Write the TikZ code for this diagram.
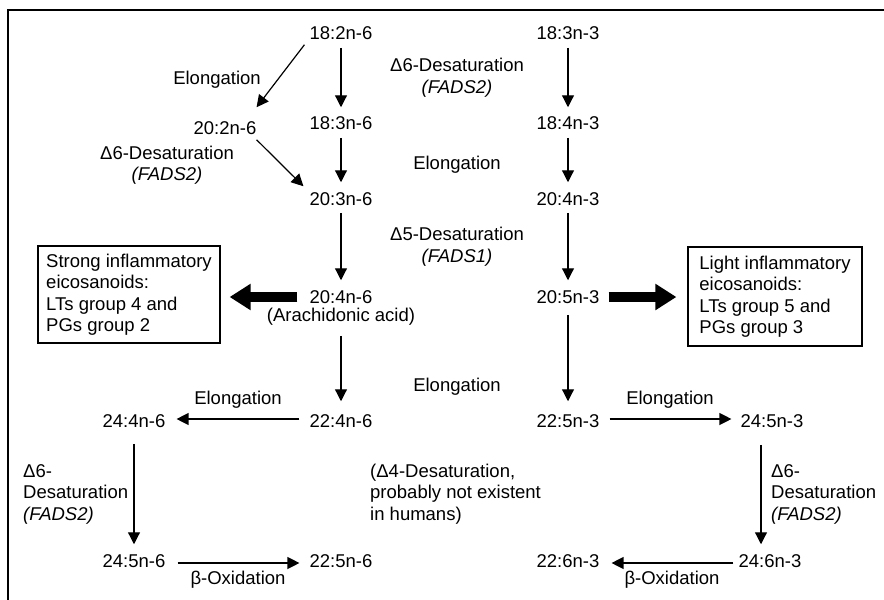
\documentclass[tikz,border=0pt]{standalone}
\usepackage{fontspec}
\setmainfont{Liberation Sans}
\usetikzlibrary{arrows.meta}
\begin{document}
\begin{tikzpicture}[x=1pt,y=-1pt,
  lbl/.style={inner sep=0pt, font=\fontsize{18.5}{21.5}\selectfont},
  ml/.style={lbl, align=left},
  arr/.style={line width=1.2pt, -{Triangle[width=12pt,length=12pt]}},
  big/.style={line width=10pt, -{Triangle[width=25pt,length=21pt]}},
  infobox/.style={draw, line width=1.2pt, ml}]
\clip (0,0) rectangle (884,600);
\draw[line width=1.6pt] (8,10) rectangle (900,620);

% n-6 column
\node[lbl] (a1) at (341,33) {18:2n-6};
\node[lbl] (a2) at (341,123) {18:3n-6};
\node[lbl] (l2) at (225,128) {20:2n-6};
\node[lbl] (a3) at (341,199) {20:3n-6};
\node[lbl] (a4) at (341,297) {20:4n-6};
\node[lbl] (aa) at (341,317) {(Arachidonic acid)};
\node[lbl] (a5) at (341,421) {22:4n-6};
\node[lbl] (l5) at (134,421) {24:4n-6};
\node[lbl] (l6) at (134,561) {24:5n-6};
\node[lbl] (a6) at (341,561) {22:5n-6};
% n-3 column
\node[lbl] (b1) at (568,33) {18:3n-3};
\node[lbl] (b2) at (568,123) {18:4n-3};
\node[lbl] (b3) at (568,199) {20:4n-3};
\node[lbl] (b4) at (568,297) {20:5n-3};
\node[lbl] (b5) at (568,421) {22:5n-3};
\node[lbl] (r5) at (772,421) {24:5n-3};
\node[lbl] (r6) at (770,561) {24:6n-3};
\node[lbl] (b6) at (568,561) {22:6n-3};

% boxes
\node[infobox, minimum width=182pt, minimum height=97pt] (sbox) at (129,294.5)
  {Strong inflammatory\\eicosanoids:\\LTs group 4 and\\PGs group 2};
\node[infobox, minimum width=174pt, minimum height=99pt] (lbox) at (775,296.5)
  {Light inflammatory\\eicosanoids:\\LTs group 5 and\\PGs group 3};

% labels
\node[lbl] (e1) at (217,80) {Elongation};
\node[lbl, align=center] (d1) at (167,165) {Δ6-Desaturation\\\textit{(FADS2)}};
\node[lbl, align=center] (d2) at (457,77.5) {Δ6-Desaturation\\\textit{(FADS2)}};
\node[lbl] (e2) at (457,165) {Elongation};
\node[lbl, align=center] (d3) at (457,246.5) {Δ5-Desaturation\\\textit{(FADS1)}};
\node[lbl] (e3) at (457,387) {Elongation};
\node[lbl] (e4) at (238,400) {Elongation};
\node[lbl] (e5) at (670,400) {Elongation};
\node[ml, anchor=west] (d4) at (370,494) {(Δ4-Desaturation,\\probably not existent\\in humans)};
\node[ml, anchor=west] (d5) at (23,494) {Δ6-\\Desaturation\\\textit{(FADS2)}};
\node[ml, anchor=west] (d6) at (771,494) {Δ6-\\Desaturation\\\textit{(FADS2)}};
\node[lbl] (o1) at (238,580) {β-Oxidation};
\node[lbl] (o2) at (672,580) {β-Oxidation};

% vertical arrows
\draw[arr, shorten <=8pt, shorten >=9pt] (a1) -- (a2);
\draw[arr, shorten <=8pt, shorten >=10pt] (a2) -- (a3);
\draw[arr, shorten <=7pt, shorten >=10pt] (a3) -- (a4);
\draw[arr, shorten <=10pt, shorten >=13pt] (aa) -- (a5);
\draw[arr, shorten <=8pt, shorten >=9pt] (b1) -- (b2);
\draw[arr, shorten <=8pt, shorten >=10pt] (b2) -- (b3);
\draw[arr, shorten <=7pt, shorten >=10pt] (b3) -- (b4);
\draw[arr, shorten <=11pt, shorten >=13pt] (b4) -- (b5);
\draw[arr, shorten <=16pt, shorten >=10pt] (l5) -- (l6);
\draw[arr] ([xshift=-11pt, yshift=-17pt]r5.south) -- ([xshift=-9pt, yshift=10pt]r6.north);

% diagonal arrows
\draw[arr] ([shift={(-5pt,-5pt)}]a1.south west) -- ([shift={(0pt,14pt)}]l2.north east);
\draw[arr] ([shift={(0pt,-5pt)}]l2.south east) -- ([shift={(-6pt,6pt)}]a3.north west);

% horizontal arrows
\draw[arr, shorten <=10pt, shorten >=11pt] ([yshift=2pt]a5.west) -- ([yshift=2pt]a5.west -| l5.east);
\draw[arr, shorten <=10pt, shorten >=9pt] ([yshift=2pt]b5.east) -- ([yshift=2pt]b5.east -| r5.west);
\draw[arr, shorten <=12pt, shorten >=10pt] ([yshift=-2pt]l6.east) -- ([yshift=-2pt]l6.east -| a6.west);
\draw[arr, shorten <=5pt, shorten >=12pt] ([yshift=-2pt]r6.west) -- ([yshift=-2pt]r6.west -| b6.east);

% thick arrows
\draw[big, shorten <=12pt, shorten >=9pt] (a4.west) -- (a4.west -| sbox.east);
\draw[big, shorten <=9pt, shorten >=11pt] (b4.east) -- (b4.east -| lbox.west);
\end{tikzpicture}
\end{document}
